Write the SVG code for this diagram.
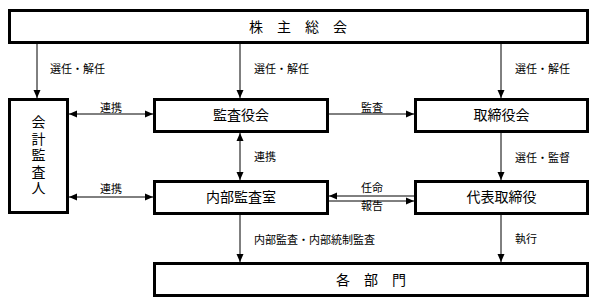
<svg xmlns="http://www.w3.org/2000/svg" width="598" height="305" viewBox="0 0 598 305">
<defs>
<style>
.box{fill:#fff;stroke:#000;stroke-width:3}
.big{font-family:"Noto Sans CJK JP","Noto Sans CJK SC",sans-serif;font-size:14px;fill:#000;text-anchor:middle}
.lbl{font-family:"Noto Sans CJK JP","Noto Sans CJK SC",sans-serif;font-size:11px;fill:#000}
.mid{text-anchor:middle}
.ln{stroke:#000;stroke-width:1;fill:none}
</style>
<marker id="ah" viewBox="0 0 8 8" refX="8" refY="4" markerWidth="8" markerHeight="8" markerUnits="userSpaceOnUse" orient="auto-start-reverse">
<path d="M0,0.5 L8,4 L0,7.5 z" fill="#000"/>
</marker>
</defs>
<rect width="598" height="305" fill="#fff"/>
<g id="connectors">
<line class="ln" x1="37" y1="44" x2="37" y2="98" marker-end="url(#ah)"/>
<line class="ln" x1="240" y1="44" x2="240" y2="98" marker-end="url(#ah)"/>
<line class="ln" x1="501" y1="44" x2="501" y2="98" marker-end="url(#ah)"/>
<line class="ln" x1="69" y1="114" x2="153" y2="114" marker-start="url(#ah)" marker-end="url(#ah)"/>
<line class="ln" x1="329" y1="114" x2="414" y2="114" marker-end="url(#ah)"/>
<line class="ln" x1="240" y1="133" x2="240" y2="180" marker-start="url(#ah)" marker-end="url(#ah)"/>
<line class="ln" x1="501" y1="133" x2="501" y2="180" marker-end="url(#ah)"/>
<line class="ln" x1="69" y1="197" x2="153" y2="197" marker-start="url(#ah)" marker-end="url(#ah)"/>
<line class="ln" x1="414" y1="196" x2="329" y2="196" marker-end="url(#ah)"/>
<line class="ln" x1="329" y1="201" x2="414" y2="201" marker-end="url(#ah)"/>
<line class="ln" x1="240" y1="215" x2="240" y2="262" marker-end="url(#ah)"/>
<line class="ln" x1="501" y1="215" x2="501" y2="262" marker-end="url(#ah)"/>
<text class="lbl" x="50" y="73">選任・解任</text>
<text class="lbl" x="254" y="73">選任・解任</text>
<text class="lbl" x="515" y="73">選任・解任</text>
<text class="lbl mid" x="111" y="112">連携</text>
<text class="lbl mid" x="372" y="112">監査</text>
<text class="lbl" x="254" y="161">連携</text>
<text class="lbl" x="515" y="162">選任・監督</text>
<text class="lbl mid" x="111" y="193">連携</text>
<text class="lbl mid" x="372" y="192">任命</text>
<text class="lbl mid" x="372" y="210">報告</text>
<text class="lbl" x="254" y="244">内部監査・内部統制監査</text>
<text class="lbl" x="515" y="243">執行</text>
</g>
<g id="shareholders">
<rect class="box" x="9.5" y="10.5" width="578" height="32"/>
<text class="big" x="298" y="31.5">株　主　総　会</text>
</g>
<g id="auditor">
<rect class="box" x="9.5" y="99.5" width="58" height="113"/>
<text class="big" x="38.5" y="156" writing-mode="vertical-rl" letter-spacing="2.5">会計監査人</text>
</g>
<g id="kansayakukai">
<rect class="box" x="154.5" y="99.5" width="173" height="32"/>
<text class="big" x="241" y="120">監査役会</text>
</g>
<g id="torishimariyakukai">
<rect class="box" x="415.5" y="99.5" width="172" height="32"/>
<text class="big" x="501.5" y="120">取締役会</text>
</g>
<g id="naibukansashitsu">
<rect class="box" x="154.5" y="181.5" width="173" height="32"/>
<text class="big" x="241" y="202">内部監査室</text>
</g>
<g id="daihyo">
<rect class="box" x="415.5" y="181.5" width="172" height="32"/>
<text class="big" x="501.5" y="202">代表取締役</text>
</g>
<g id="kakubumon">
<rect class="box" x="154.5" y="263.5" width="433" height="32"/>
<text class="big" x="371" y="284.5">各　部　門</text>
</g>
</svg>
